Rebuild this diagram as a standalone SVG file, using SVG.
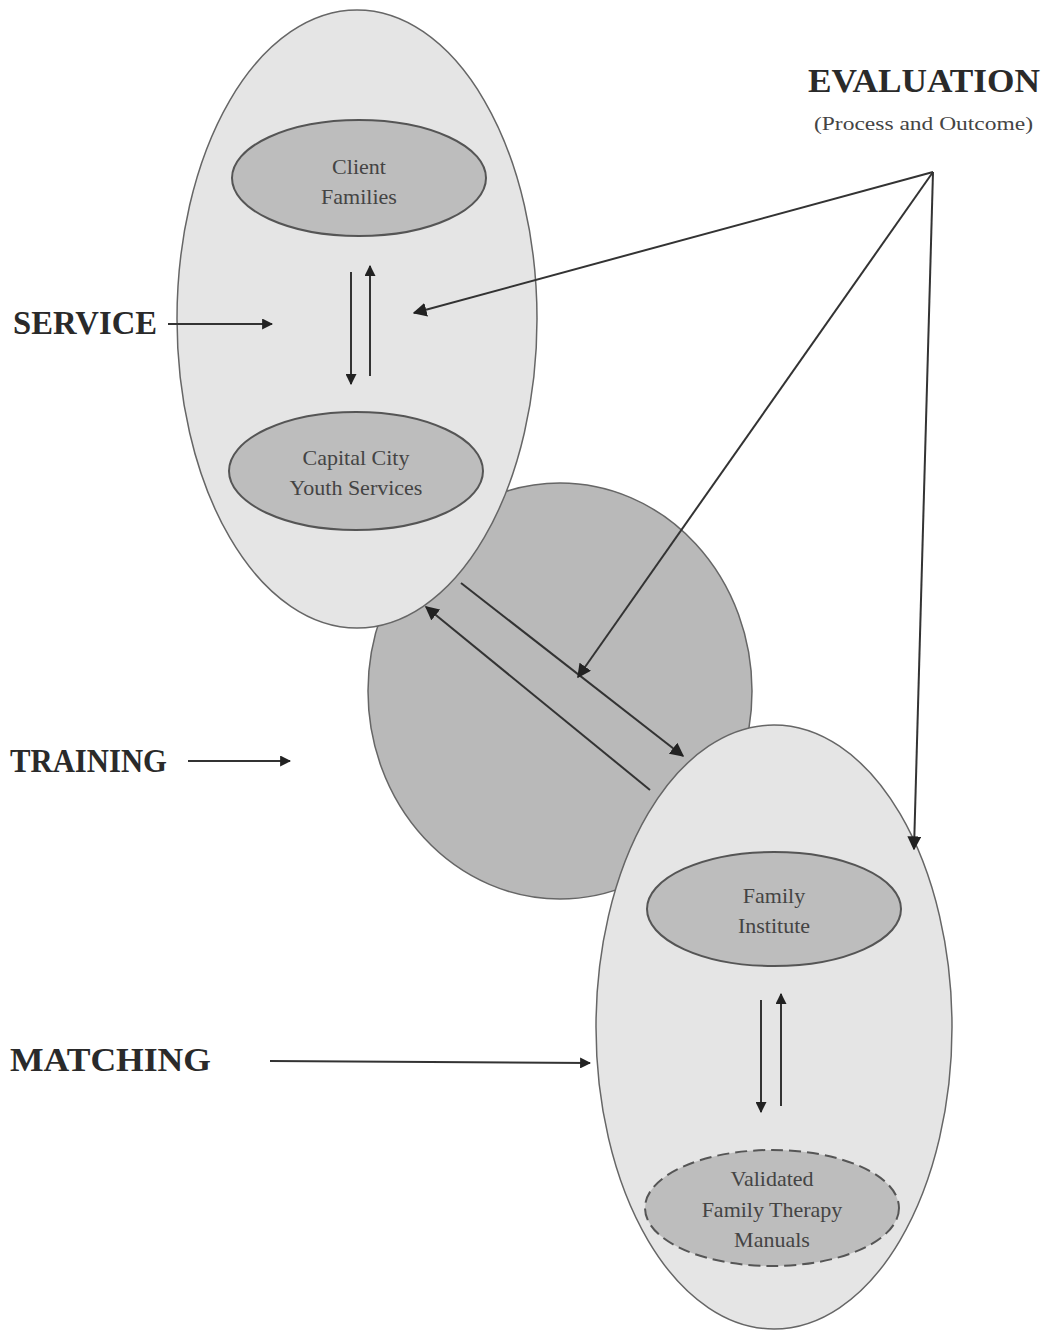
<svg xmlns="http://www.w3.org/2000/svg" width="1044" height="1343" viewBox="0 0 1044 1343">
<defs>
<marker id="ah" viewBox="0 0 10 10" refX="9" refY="5" markerWidth="14" markerHeight="14" markerUnits="userSpaceOnUse" orient="auto"><path d="M0,0 L10,5 L0,10 z" fill="#222"/></marker>
<marker id="ahs" viewBox="0 0 10 10" refX="9" refY="5" markerWidth="11" markerHeight="11" markerUnits="userSpaceOnUse" orient="auto"><path d="M0,0 L10,5 L0,10 z" fill="#222"/></marker>
<style>
.outer{fill:#e5e5e5;stroke:#666;stroke-width:1.5}
.mid{fill:#b9b9b9;stroke:#666;stroke-width:1.5}
.inner{fill:#bdbdbd;stroke:#555;stroke-width:2}
.dash{stroke-dasharray:12 6}
.lbl{font-family:"Liberation Serif",serif;font-weight:bold;font-size:33px;fill:#2a2a2a}
.in{font-family:"Liberation Serif",serif;font-size:22px;fill:#444;text-anchor:middle}
.sub{font-family:"Liberation Serif",serif;font-size:19px;fill:#444}
.c{stroke:#333;stroke-width:2;fill:none}
</style>
</defs>
<rect width="1044" height="1343" fill="#fff"/>
<g id="training-circle"><ellipse class="mid" cx="560" cy="691" rx="192" ry="208"/></g>
<g id="service-ellipse"><ellipse class="outer" cx="357" cy="319" rx="180" ry="309"/></g>
<g id="matching-ellipse"><ellipse class="outer" cx="774" cy="1027" rx="178" ry="302"/></g>
<g id="client-families"><ellipse class="inner" cx="359" cy="178" rx="127" ry="58"/>
<text class="in" x="359" y="174">Client</text><text class="in" x="359" y="204">Families</text></g>
<g id="capital-city"><ellipse class="inner" cx="356" cy="471" rx="127" ry="59"/>
<text class="in" x="356" y="465">Capital City</text><text class="in" x="356" y="495">Youth Services</text></g>
<g id="family-institute"><ellipse class="inner" cx="774" cy="909" rx="127" ry="57"/>
<text class="in" x="774" y="903">Family</text><text class="in" x="774" y="933">Institute</text></g>
<g id="manuals"><ellipse class="inner dash" cx="772" cy="1208" rx="127" ry="58"/>
<text class="in" x="772" y="1186">Validated</text><text class="in" x="772" y="1217">Family Therapy</text><text class="in" x="772" y="1247">Manuals</text></g>
<g id="service-label"><text class="lbl" x="13" y="334" textLength="144" lengthAdjust="spacingAndGlyphs">SERVICE</text></g>
<g id="training-label"><text class="lbl" x="10" y="772" textLength="157" lengthAdjust="spacingAndGlyphs">TRAINING</text></g>
<g id="matching-label"><text class="lbl" x="10" y="1071" textLength="201" lengthAdjust="spacingAndGlyphs">MATCHING</text></g>
<g id="evaluation-label"><text class="lbl" x="808" y="92" textLength="232" lengthAdjust="spacingAndGlyphs">EVALUATION</text>
<text class="sub" x="814" y="130" textLength="219" lengthAdjust="spacingAndGlyphs">(Process and Outcome)</text></g>
<g id="connectors">
<line class="c" x1="168" y1="324" x2="272" y2="324" marker-end="url(#ahs)"/>
<line class="c" x1="188" y1="761" x2="290" y2="761" marker-end="url(#ahs)"/>
<line class="c" x1="270" y1="1061" x2="590" y2="1063" marker-end="url(#ahs)"/>
<line class="c" x1="351" y1="272" x2="351" y2="384" marker-end="url(#ahs)"/>
<line class="c" x1="370" y1="376" x2="370" y2="266" marker-end="url(#ahs)"/>
<line class="c" x1="761" y1="1000" x2="761" y2="1112" marker-end="url(#ahs)"/>
<line class="c" x1="781" y1="1106" x2="781" y2="994" marker-end="url(#ahs)"/>
<line class="c" x1="461" y1="583" x2="683" y2="756" marker-end="url(#ah)"/>
<line class="c" x1="650" y1="790" x2="426" y2="607" marker-end="url(#ah)"/>
<line class="c" x1="933" y1="172" x2="414" y2="313" marker-end="url(#ah)"/>
<line class="c" x1="933" y1="172" x2="578" y2="677" marker-end="url(#ah)"/>
<line class="c" x1="933" y1="172" x2="914" y2="849" marker-end="url(#ah)"/>
</g>
</svg>
